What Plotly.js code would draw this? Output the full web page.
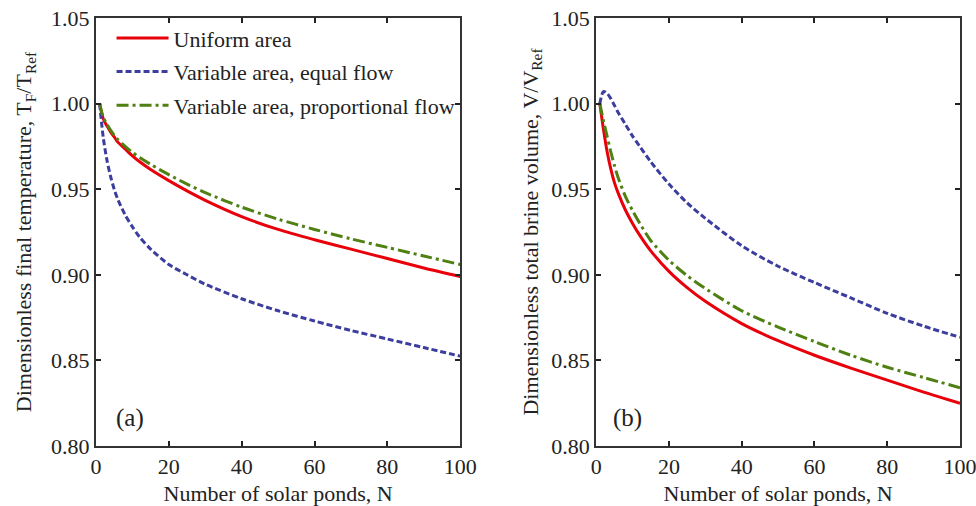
<!DOCTYPE html>
<html>
<head>
<meta charset="utf-8">
<script src="https://cdn.plot.ly/plotly-3.0.1.min.js"></script>
<style>html,body{margin:0;padding:0;background:#fff;}#chart{width:976px;height:506px;}</style>
</head>
<body>
<div id="chart"></div>
<script>
// Panel (a): dimensionless final temperature
const N_a = [1, 2, 3, 4, 5, 6, 8, 10, 12, 15, 20, 25, 30, 40, 50, 60, 70, 80, 90, 100];
const T_uniform = [1.000, 0.991, 0.987, 0.9835, 0.9805, 0.9775, 0.9735, 0.9695, 0.966, 0.9615, 0.955, 0.949, 0.9435, 0.934, 0.9265, 0.9205, 0.915, 0.9095, 0.904, 0.899];
const T_equal   = [1.000, 0.980, 0.967, 0.9575, 0.950, 0.944, 0.935, 0.928, 0.922, 0.915, 0.906, 0.900, 0.8945, 0.886, 0.879, 0.873, 0.8675, 0.8625, 0.8575, 0.8525];
const T_prop    = [1.000, 0.992, 0.988, 0.9845, 0.9815, 0.979, 0.975, 0.9715, 0.9685, 0.9645, 0.9585, 0.953, 0.948, 0.9395, 0.9325, 0.9265, 0.921, 0.916, 0.911, 0.906];

// Panel (b): dimensionless total brine volume
const N_b = [1, 2, 3, 4, 5, 6, 8, 10, 12, 15, 20, 25, 30, 40, 50, 60, 70, 80, 90, 100];
const V_uniform = [1.000, 0.985, 0.972, 0.962, 0.954, 0.948, 0.938, 0.930, 0.923, 0.914, 0.902, 0.8925, 0.8845, 0.8715, 0.8615, 0.853, 0.8455, 0.8385, 0.8315, 0.825];
const V_equal   = [1.000, 1.007, 1.006, 1.003, 0.999, 0.995, 0.988, 0.981, 0.975, 0.966, 0.953, 0.942, 0.933, 0.917, 0.905, 0.8955, 0.8865, 0.8775, 0.870, 0.8635];
const V_prop    = [1.000, 0.990, 0.981, 0.972, 0.964, 0.957, 0.946, 0.9375, 0.930, 0.920, 0.9085, 0.8995, 0.892, 0.879, 0.8695, 0.861, 0.853, 0.846, 0.840, 0.834];

const seriesNames = ['Uniform area', 'Variable area, equal flow', 'Variable area, proportional flow'];
const xTicks = [0, 20, 40, 60, 80, 100];
const yTicks = [0.80, 0.85, 0.90, 0.95, 1.00, 1.05];

const RED = 'rgb(232,0,10)', BLUE = 'rgb(60,62,158)', GREEN = 'rgb(78,128,18)';
const styles = [
  {color: RED, width: 3, dash: 'solid'},
  {color: BLUE, width: 3, dash: '6px,3px'},
  {color: GREEN, width: 3, dash: '12px,4px,3px,4px'}
];
const groups = ['g1', 'g2', 'g3'];

const dataA = [T_uniform, T_equal, T_prop];
const dataB = [V_uniform, V_equal, V_prop];
const traces = [];
dataA.forEach((ys, i) => traces.push({
  x: N_a, y: ys, type: 'scatter', mode: 'lines', name: seriesNames[i], legendgroup: groups[i],
  line: Object.assign({shape: 'spline', smoothing: 0.8}, styles[i]), xaxis: 'x', yaxis: 'y', showlegend: true
}));
dataB.forEach((ys, i) => traces.push({
  x: N_b, y: ys, type: 'scatter', mode: 'lines', name: seriesNames[i], legendgroup: groups[i],
  line: Object.assign({shape: 'spline', smoothing: 0.8}, styles[i]), xaxis: 'x2', yaxis: 'y2', showlegend: false
}));

const FONT = 'Liberation Serif, Times New Roman, serif';
const FS = 22;
const axCommon = {
  showgrid: false, zeroline: false, showline: true, linecolor: '#333', linewidth: 2,
  mirror: 'ticks', ticks: 'inside', ticklen: 5, tickwidth: 2, tickcolor: '#222',
  ticklabeloverflow: 'allow',
  tickfont: {family: FONT, size: FS, color: '#222'}
};
const xax = (dom, anchor) => Object.assign({}, axCommon, {
  domain: dom, anchor: anchor, range: [0, 100], tickvals: xTicks, ticktext: xTicks.map(String),
  title: {text: 'Number of solar ponds, N', font: {family: FONT, size: FS, color: '#222'}, standoff: 10}
});
const yax = (anchor, title, so) => Object.assign({}, axCommon, {
  domain: [0, 1], anchor: anchor, range: [0.80, 1.05], tickvals: yTicks, ticktext: yTicks.map(v => v.toFixed(2)),
  title: {text: title, font: {family: FONT, size: FS, color: '#222'}, standoff: so}
});

const layout = {
  width: 976, height: 506,
  margin: {l: 96, r: 16, t: 18, b: 60},
  paper_bgcolor: '#fff', plot_bgcolor: '#fff',
  font: {family: FONT, color: '#222'},
  xaxis: xax([0, 0.4215], 'y'),
  yaxis: yax('x', 'Dimensionless final temperature, T<sub>F</sub>/T<sub>Ref</sub>', 13),
  xaxis2: xax([0.5789, 1], 'y2'),
  yaxis2: yax('x2', 'Dimensionless total brine volume, V/V<sub>Ref</sub>', 7),
  showlegend: true,
  legend: {
    x: 0.018, y: 1.002, xref: 'paper', yref: 'paper', xanchor: 'left', yanchor: 'top',
    bgcolor: 'rgba(0,0,0,0)', borderwidth: 0, itemwidth: 52, traceorder: 'grouped', tracegroupgap: 2,
    font: {family: FONT, size: FS, color: '#222'}
  },
  annotations: [
    {text: '(a)', xref: 'x domain', yref: 'y domain', x: 0.05, y: 0.065, xanchor: 'left', yanchor: 'middle', showarrow: false, font: {family: FONT, size: 25, color: '#222'}},
    {text: '(b)', xref: 'x2 domain', yref: 'y2 domain', x: 0.04, y: 0.065, xanchor: 'left', yanchor: 'middle', showarrow: false, font: {family: FONT, size: 25, color: '#222'}}
  ]
};

Plotly.newPlot('chart', traces, layout, {displayModeBar: false, staticPlot: true});
</script>
</body>
</html>
